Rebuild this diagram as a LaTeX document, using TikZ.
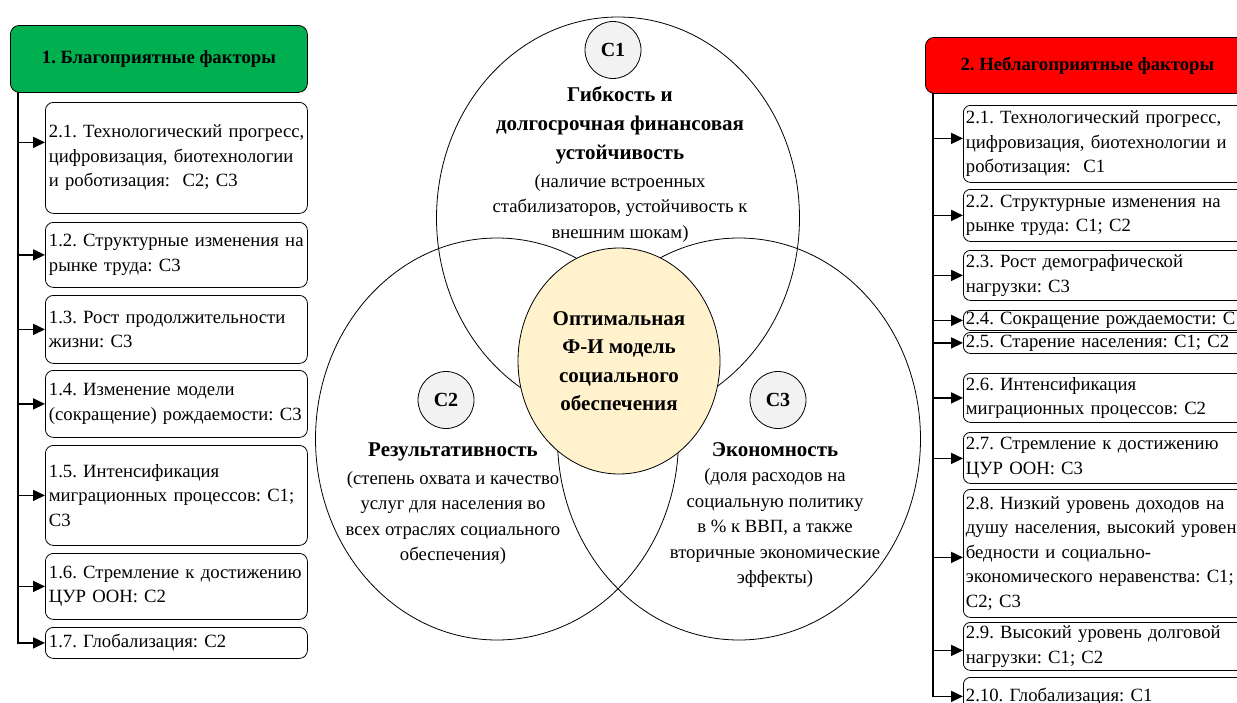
\documentclass[tikz,border=0pt]{standalone}
\usepackage{fontspec}
\setmainfont{Liberation Serif}
\frenchspacing
\usetikzlibrary{arrows.meta,shapes.geometric}
\definecolor{hgreen}{RGB}{0,176,80}
\definecolor{hred}{RGB}{255,0,0}
\definecolor{cyellow}{RGB}{255,242,204}
\definecolor{cgray}{RGB}{242,242,242}
\begin{document}
\begin{tikzpicture}[x=1pt,y=-1pt,
  box/.style={draw, line width=0.8pt, anchor=north west, inner ysep=0pt, align=left,
    font=\fontsize{18.7}{24.5}\selectfont},
  lbox/.style={box, rounded corners=8pt, inner xsep=3.5pt, text width=255pt},
  rbox/.style={box, rounded corners=7pt, inner xsep=2.5pt, text width=294pt},
  head/.style={draw, line width=0.8pt, rounded corners=9pt, anchor=north west,
    font=\bfseries\fontsize{18.7}{22}\selectfont},
  arr/.style={line width=1.7pt, -{Triangle[length=12pt,width=11pt]}},
  bigell/.style={draw, line width=0.8pt, ellipse, inner sep=0pt, minimum width=363pt, minimum height=402pt},
  smallc/.style={draw, line width=0.8pt, ellipse, fill=cgray, inner sep=0pt, minimum width=56pt, minimum height=57pt,
    font=\bfseries\fontsize{20}{24}\selectfont},
  ttl/.style={align=center, inner sep=0pt, font=\bfseries\fontsize{21}{29}\selectfont},
  desc/.style={align=center, inner sep=0pt, font=\fontsize{18.7}{25.5}\selectfont}
]
\useasboundingbox (0,0) rectangle (1237,702);
\clip (0,0) rectangle (1237,702);
\fill[white] (0,0) rectangle (1237,702);

% ---------- central diagram ----------
\node[bigell] (T) at (618,218) {};
\node[bigell] (B2) at (497,439) {};
\node[bigell] (B3) at (739,439) {};
\node[draw, line width=0.8pt, ellipse, fill=cyellow, inner sep=0pt, minimum width=202pt, minimum height=226pt,
  align=center, font=\bfseries\fontsize{21}{28.5}\selectfont] (M) at (619,361)
  {Оптимальная\\Ф-И модель\\социального\\обеспечения};
\node[smallc] (S1) at (613,50) {С1};
\node[smallc] (S2) at (446,400) {С2};
\node[smallc] (S3) at (778,400) {С3};

\node[ttl] (Tt) at (620,125) {Гибкость и\\долгосрочная финансовая\\устойчивость};
\node[desc] (Td) at (620,208) {(наличие встроенных\\стабилизаторов, устойчивость к\\внешним шокам)};
\node[ttl] (B2t) at (453,452) {Результативность};
\node[desc] (B2d) at (453,518) {(степень охвата и качество\\услуг для населения во\\всех отраслях социального\\обеспечения)};
\node[ttl] (B3t) at (775,450) {Экономность};
\node[desc] (B3d) at (775,528) {(доля расходов на\\социальную политику\\в \% к ВВП, а также\\вторичные экономические\\эффекты)};

% ---------- left panel ----------
\node[head, fill=hgreen, minimum width=297pt, minimum height=67pt] (H1) at (10,25) {1. Благоприятные факторы};
\node[lbox, minimum height=111pt] (L1) at (45,102) {\mbox{2.1. Технологический прогресс,}\\\mbox{цифровизация, биотехнологии}\\\mbox{и роботизация:~~С2; С3}};
\node[lbox, minimum height=65pt] (L2) at (45,222) {\mbox{1.2. Структурные изменения на}\\\mbox{рынке труда: С3}};
\node[lbox, minimum height=68pt] (L3) at (45,295) {\mbox{1.3. Рост продолжительности}\\\mbox{жизни: С3}};
\node[lbox, minimum height=67pt] (L4) at (45,370) {\mbox{1.4. Изменение модели}\\\mbox{(сокращение) рождаемости: С3}};
\node[lbox, minimum height=100pt] (L5) at (45,445) {\mbox{1.5. Интенсификация}\\\mbox{миграционных процессов: С1;}\\\mbox{С3}};
\node[lbox, minimum height=66pt] (L6) at (45,553) {\mbox{1.6. Стремление к достижению}\\\mbox{ЦУР ООН: С2}};
\node[lbox, minimum height=31pt] (L7) at (45,627) {\mbox{1.7. Глобализация: С2}};

\coordinate (tl) at (18,92);
\coordinate (a1) at ([yshift=15.5pt]L1.west);
\draw[arr] (tl) |- (L7.west);
\draw[arr] (tl |- a1) -- (a1);
\foreach \n in {L2,L3,L4,L5,L6} \draw[arr] (tl |- \n.west) -- (\n.west);

% ---------- right panel ----------
\node[head, fill=hred, minimum width=324pt, minimum height=56pt] (H2) at (925,37) {2. Неблагоприятные факторы};
\node[rbox, minimum height=77pt] (R1) at (963,105) {\mbox{2.1. Технологический прогресс,}\\\mbox{цифровизация, биотехнологии и}\\\mbox{роботизация:~~С1}};
\node[rbox, minimum height=52pt] (R2) at (963,189) {\mbox{2.2. Структурные изменения на}\\\mbox{рынке труда: С1; С2}};
\node[rbox, minimum height=50pt] (R3) at (963,250) {\mbox{2.3. Рост демографической}\\\mbox{нагрузки: С3}};
\node[rbox, minimum height=20pt] (R4) at (963,310) {\mbox{2.4. Сокращение рождаемости: С1}};
\node[rbox, minimum height=21pt] (R5) at (963,332) {\mbox{2.5. Старение населения: С1; С2}};
\node[rbox, minimum height=49pt] (R6) at (963,373) {\mbox{2.6. Интенсификация}\\\mbox{миграционных процессов: С2}};
\node[rbox, minimum height=51pt] (R7) at (963,432) {\mbox{2.7. Стремление к достижению}\\\mbox{ЦУР ООН: С3}};
\node[rbox, minimum height=128pt] (R8) at (963,489) {\mbox{2.8. Низкий уровень доходов на}\\\mbox{душу населения, высокий уровень}\\\mbox{бедности и социально-}\\\mbox{экономического неравенства: С1;}\\\mbox{С2; С3}};
\node[rbox, minimum height=48pt] (R9) at (963,622) {\mbox{2.9. Высокий уровень долговой}\\\mbox{нагрузки: С1; С2}};
\node[rbox, minimum height=38pt] (R10) at (963,677) {\mbox{2.10. Глобализация: С1}};

\coordinate (tr) at (933,93);
\coordinate (b1) at ([yshift=5.5pt]R1.west);
\coordinate (b7) at ([yshift=-0.5pt]R7.west);
\coordinate (b8) at ([yshift=-4pt]R8.west);
\coordinate (b9) at ([yshift=-4pt]R9.west);
\draw[arr] (tr) |- (R10.west);
\draw[arr] (tr |- b1) -- (b1);
\foreach \n in {R2,R3,R4,R5,R6} \draw[arr] (tr |- \n.west) -- (\n.west);
\draw[arr] (tr |- b7) -- (b7);
\draw[arr] (tr |- b8) -- (b8);
\draw[arr] (tr |- b9) -- (b9);
\end{tikzpicture}
\end{document}
